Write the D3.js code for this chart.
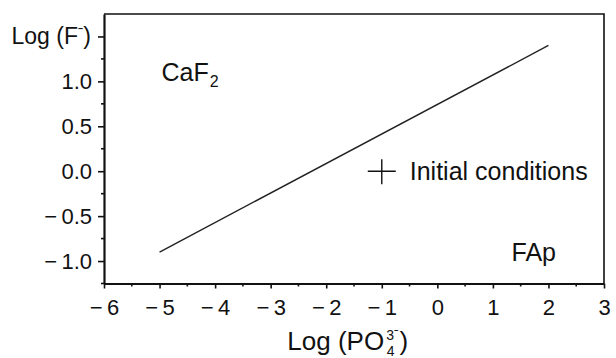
<!DOCTYPE html>
<html>
<head>
<meta charset="utf-8">
<script src="https://cdn.jsdelivr.net/npm/d3@7"></script>
<style>
  body { margin: 0; background: #fff; }
  svg text { font-family: "Liberation Sans", Arial, sans-serif; fill: #111; }
</style>
</head>
<body>
<div id="chart"></div>
<script>
// boundary line between CaF2 and FAp fields
const lineX = [-5, 2];
const lineY = [-0.9, 1.4];

// initial conditions marker
const initX = [-1];
const initY = [0];

// axis ticks
const xTicks = [-6, -5, -4, -3, -2, -1, 0, 1, 2, 3];
const xMinor = [-5.5, -4.5, -3.5, -2.5, -1.5, -0.5, 0.5, 1.5, 2.5];
const yTicks = [-1.0, -0.5, 0.0, 0.5, 1.0, 1.5];
const yMinor = [-1.25, -0.75, -0.25, 0.25, 0.75, 1.25];

// region labels
const regionLabels = [
  { name: "CaF", sub: "2", x: -5, y: 1.0 },
  { name: "FAp", sub: "", x: 1.3, y: -1.0 }
];

const W = 616, H = 358;
const margin = { top: 14, right: 12, bottom: 74.5, left: 104 },
      width = W - margin.left - margin.right,
      height = H - margin.top - margin.bottom;

const svg = d3.select("#chart")
  .append("svg")
    .attr("width", W)
    .attr("height", H)
  .append("g")
    .attr("transform", `translate(${margin.left},${margin.top})`);

const x = d3.scaleLinear().domain([-6, 3]).range([0, width]);
const y = d3.scaleLinear().domain([-1.25, 1.75]).range([height, 0]);

const fmtX = d => (d < 0 ? "\u2212\u2009" + Math.abs(d) : String(d));
const fmtY = d => (d < 0 ? "\u2212\u2009" + Math.abs(d).toFixed(1) : d.toFixed(1));

// frame (top + right)
svg.append("path")
  .attr("d", `M0,0H${width}V${height}`)
  .attr("fill", "none")
  .attr("stroke", "#111")
  .attr("stroke-width", 1.6);

// x axis
const gx = svg.append("g")
  .attr("transform", `translate(0,${height})`)
  .call(d3.axisBottom(x).tickValues(xTicks).tickFormat(fmtX).tickSize(5).tickSizeOuter(0).tickPadding(11));
gx.append("g").selectAll("line")
  .data(xMinor)
  .enter()
  .append("line")
    .attr("x1", d => x(d)).attr("x2", d => x(d))
    .attr("y1", 0).attr("y2", 3)
    .attr("stroke", "#111").attr("stroke-width", 1.6);

// y axis
const gy = svg.append("g")
  .call(d3.axisLeft(y).tickValues(yTicks).tickFormat(d => d === 1.5 ? "" : fmtY(d)).tickSize(6).tickSizeOuter(0).tickPadding(6));
gy.append("g").selectAll("line")
  .data(yMinor)
  .enter()
  .append("line")
    .attr("y1", d => y(d)).attr("y2", d => y(d))
    .attr("x1", 0).attr("x2", -3)
    .attr("stroke", "#111").attr("stroke-width", 1.6);

[gx, gy].forEach(g => {
  g.select(".domain").attr("stroke", "#111").attr("stroke-width", 2.2);
  g.selectAll(".tick line").attr("stroke", "#111").attr("stroke-width", 1.6);
  g.selectAll(".tick text").attr("font-size", 22).attr("fill", "#111")
    .attr("font-family", "Liberation Sans, Arial, sans-serif");
});

// y axis title sits in place of the 1.5 label
const yt = svg.append("text")
  .attr("x", -13)
  .attr("y", y(1.5) + 8)
  .attr("text-anchor", "end")
  .attr("font-size", 23);
yt.append("tspan").text("Log (F");
yt.append("tspan").text("\u02C9").attr("dy", -5).attr("font-size", 16);
yt.append("tspan").text(")").attr("dy", 5);

// x axis title
const xt = svg.append("text")
  .attr("x", x(-2.7))
  .attr("y", height + 66)
  .attr("font-size", 26);
xt.append("tspan").text("Log (PO");
xt.append("tspan").text("3").attr("font-size", 14).attr("dx", 2).attr("dy", -10);
xt.append("tspan").text("\u02C9").attr("font-size", 14);
xt.append("tspan").text("4").attr("font-size", 14).attr("dx", -12).attr("dy", 16);
xt.append("tspan").text(")").attr("dx", 5).attr("dy", -6);

// boundary line
const pts = lineX.map((d, i) => [d, lineY[i]]);
svg.append("path")
  .datum(pts)
  .attr("d", d3.line().x(d => x(d[0])).y(d => y(d[1])))
  .attr("fill", "none")
  .attr("stroke", "#222")
  .attr("stroke-width", 1.4);

// initial conditions cross
svg.selectAll(".init")
  .data(initX.map((d, i) => [d, initY[i]]))
  .enter()
  .append("path")
    .attr("class", "init")
    .attr("d", d => `M${x(d[0]) - 14},${y(d[1])}H${x(d[0]) + 14}M${x(d[0])},${y(d[1]) - 12}V${y(d[1]) + 13}`)
    .attr("stroke", "#111")
    .attr("stroke-width", 1.4);

svg.append("text")
  .attr("x", x(initX[0]) + 28)
  .attr("y", y(initY[0]) + 9)
  .attr("font-size", 25)
  .text("Initial conditions");

// region labels
regionLabels.forEach(r => {
  const t = svg.append("text")
    .attr("x", x(r.x) + 2)
    .attr("y", y(r.y))
    .attr("font-size", 25);
  t.append("tspan").text(r.name);
  if (r.sub) t.append("tspan").text(r.sub).attr("font-size", 16).attr("dx", 1).attr("dy", 6);
});
</script>
</body>
</html>
